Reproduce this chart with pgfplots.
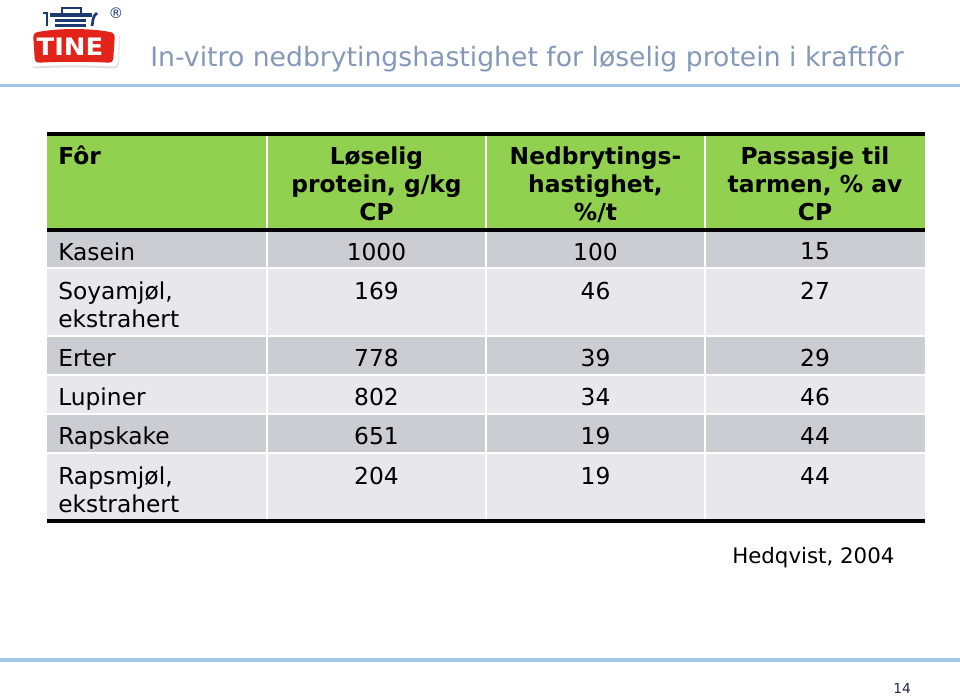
\documentclass[border=0pt]{standalone}
\usepackage{pgfplots}
\pgfplotsset{compat=1.18}
\usepackage{pgfplotstable}
\usepackage{fontspec}
\setmainfont{DejaVu Sans}
\definecolor{hdrgreen}{RGB}{146,208,80}
\definecolor{rowdark}{RGB}{204,204,211}
\definecolor{rowlight}{RGB}{232,232,236}
\definecolor{titleblue}{RGB}{132,153,184}
\definecolor{ruleblue}{RGB}{160,198,232}
\definecolor{tinered}{RGB}{226,35,26}
\definecolor{tinenavy}{RGB}{28,58,112}
\newcommand\tabfont{\fontsize{17.5}{21}\selectfont}
\newcommand\hdrfont{\fontsize{17.5}{21}\selectfont\bfseries}

% row centre (y, px from top) and values per column
\pgfplotstableread{
x y val
376.5 251.5 1000
376.5 290.5 169
376.5 357.5 778
376.5 396.5 802
376.5 435.5 651
376.5 475.5 204
}\loeselig
\pgfplotstableread{
x y val
595.5 251.5 100
595.5 290.5 46
595.5 357.5 39
595.5 396.5 34
595.5 435.5 19
595.5 475.5 19
}\nedbryt
\pgfplotstableread{
x y val
815 251.5 15
815 290.5 27
815 357.5 29
815 396.5 46
815 435.5 44
815 475.5 44
}\passasje

\begin{document}
\begin{tikzpicture}
\begin{axis}[
  width=720pt, height=522.75pt, scale only axis,
  xmin=0, xmax=960, ymin=0, ymax=697, y dir=reverse,
  hide axis, clip=false,
  every node near coord/.append style={font=\tabfont, inner sep=0pt},
]
\path (axis cs:0,0) rectangle (axis cs:960,697);

% ---- logo ----
\fill[black!12, rounded corners=4pt] (axis cs:30,31) .. controls (axis cs:55,25) and (axis cs:95,25) .. (axis cs:120,31)
  -- (axis cs:119,69) .. controls (axis cs:95,67) and (axis cs:55,67) .. (axis cs:31,69) -- cycle;
\fill[white, rounded corners=4pt] (axis cs:28,28) .. controls (axis cs:55,22) and (axis cs:93,22) .. (axis cs:119,28)
  -- (axis cs:118,67) .. controls (axis cs:93,65) and (axis cs:55,65) .. (axis cs:29,67) -- cycle;
\fill[tinered, rounded corners=3pt] (axis cs:33,33) .. controls (axis cs:57,28) and (axis cs:91,28) .. (axis cs:115,33)
  -- (axis cs:113,63) .. controls (axis cs:91,61.5) and (axis cs:57,61.5) .. (axis cs:35,63) -- cycle;
\node[white, inner sep=0pt, anchor=base, font=\fontsize{18}{18}\selectfont\bfseries] at (axis cs:70,55.5) {\scalebox{1.08}[1]{TINE}};
\draw[tinenavy, line width=2.2pt] (axis cs:62,13) -- (axis cs:62,8) -- (axis cs:81,8) -- (axis cs:81,13);
\fill[tinenavy] (axis cs:50,13) rectangle (axis cs:92,17);
\fill[tinenavy] (axis cs:55,18.5) rectangle (axis cs:86,22);
\fill[tinenavy] (axis cs:55,23.5) rectangle (axis cs:86,27);
\draw[tinenavy, line width=2pt] (axis cs:43,13) -- (axis cs:47,13) -- (axis cs:47,26);
\draw[tinenavy, line width=2pt] (axis cs:97,13) .. controls (axis cs:92,16) and (axis cs:93,23) .. (axis cs:92,26);
\node[tinenavy, inner sep=0pt, font=\fontsize{11}{11}\selectfont] at (axis cs:116,13) {®};

% ---- title and rules ----
\node[titleblue, anchor=base west, inner sep=0pt, font=\fontsize{20}{20}\selectfont] at (axis cs:150,66)
  {In-vitro nedbrytingshastighet for løselig protein i kraftfôr};
\fill[ruleblue] (axis cs:0,84) rectangle (axis cs:960,87);
\fill[ruleblue] (axis cs:0,658) rectangle (axis cs:960,662);

% ---- table backgrounds ----
\fill[hdrgreen] (axis cs:47,134) rectangle (axis cs:925,230);
\fill[rowdark]  (axis cs:47,230) rectangle (axis cs:925,268);
\fill[rowlight] (axis cs:47,268) rectangle (axis cs:925,336);
\fill[rowdark]  (axis cs:47,336) rectangle (axis cs:925,375);
\fill[rowlight] (axis cs:47,375) rectangle (axis cs:925,414);
\fill[rowdark]  (axis cs:47,414) rectangle (axis cs:925,453);
\fill[rowlight] (axis cs:47,453) rectangle (axis cs:925,522);
% white separators
\fill[white] (axis cs:47,267) rectangle (axis cs:925,269);
\fill[white] (axis cs:47,335) rectangle (axis cs:925,337);
\fill[white] (axis cs:47,374) rectangle (axis cs:925,376);
\fill[white] (axis cs:47,413) rectangle (axis cs:925,415);
\fill[white] (axis cs:47,452) rectangle (axis cs:925,454);
\fill[white] (axis cs:266,134) rectangle (axis cs:268,520);
\fill[white] (axis cs:485,134) rectangle (axis cs:487,520);
\fill[white] (axis cs:704,134) rectangle (axis cs:706,520);
% black rules
\fill[black] (axis cs:47,132) rectangle (axis cs:925,136);
\fill[black] (axis cs:47,228) rectangle (axis cs:925,232);
\fill[black] (axis cs:47,519) rectangle (axis cs:925,523);

% ---- header ----
\begin{scope}[every node/.style={inner sep=0pt, anchor=base, font=\hdrfont}]
\node[anchor=base west] at (axis cs:58,164) {Fôr};
\node at (axis cs:376.5,164) {Løselig};
\node at (axis cs:376.5,192) {protein, g/kg};
\node at (axis cs:376.5,220) {CP};
\node at (axis cs:595.5,164) {Nedbrytings-};
\node at (axis cs:595.5,192) {hastighet,};
\node at (axis cs:595.5,220) {\%/t};
\node at (axis cs:815,164) {Passasje til};
\node at (axis cs:815,192) {tarmen, \% av};
\node at (axis cs:815,220) {CP};
\end{scope}

% ---- row labels ----
\begin{scope}[every node/.style={inner sep=0pt, anchor=base west, font=\tabfont}]
\node at (axis cs:58,260) {Kasein};
\node at (axis cs:58,299) {Soyamjøl,};
\node at (axis cs:58,327) {ekstrahert};
\node at (axis cs:58,366) {Erter};
\node at (axis cs:58,405) {Lupiner};
\node at (axis cs:58,444) {Rapskake};
\node at (axis cs:58,484) {Rapsmjøl,};
\node at (axis cs:58,512) {ekstrahert};
\end{scope}

% ---- values ----
\addplot[draw=none, mark=none, nodes near coords, nodes near coords align=center,
  point meta=explicit symbolic] table[x=x, y=y, meta=val] {\loeselig};
\addplot[draw=none, mark=none, nodes near coords, nodes near coords align=center,
  point meta=explicit symbolic] table[x=x, y=y, meta=val] {\nedbryt};
\addplot[draw=none, mark=none, nodes near coords, nodes near coords align=center,
  point meta=explicit symbolic] table[x=x, y=y, meta=val] {\passasje};

% ---- source and page number ----
\node[inner sep=0pt, anchor=base west, font=\fontsize{16}{16}\selectfont] at (axis cs:732,563) {Hedqvist, 2004};
\node[inner sep=0pt, anchor=base west, text={rgb,255:red,30;green,40;blue,70}, font=\fontsize{10.3}{10.3}\selectfont] at (axis cs:893,693) {14};
\end{axis}
\end{tikzpicture}
\end{document}
